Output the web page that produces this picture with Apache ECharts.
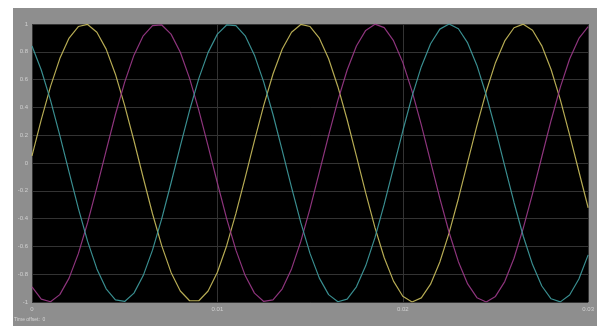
<!DOCTYPE html>
<html>
<head>
<meta charset="utf-8">
<script src="https://cdn.jsdelivr.net/npm/echarts@6/dist/echarts.min.js"></script>
<style>
html,body{margin:0;padding:0;background:#fff;}
#chart{width:597px;height:326px;}
</style>
</head>
<body>
<div id="chart"></div>
<script>
// Time samples (s)
const time = [0,0.0005,0.001,0.0015,0.002,0.0025,0.003,0.0035,0.004,0.0045,0.005,0.0055,0.006,0.0065,0.007,0.0075,0.008,0.0085,0.009,0.0095,
0.010,0.0105,0.011,0.0115,0.012,0.0125,0.013,0.0135,0.014,0.0145,0.015,0.0155,0.016,0.0165,0.017,0.0175,0.018,0.0185,0.019,0.0195,
0.020,0.0205,0.021,0.0215,0.022,0.0225,0.023,0.0235,0.024,0.0245,0.025,0.0255,0.026,0.0265,0.027,0.0275,0.028,0.0285,0.029,0.0295,0.030];
// Phase values
const phaseYellow = [0.051,0.312,0.551,0.751,0.899,0.982,0.997,0.941,0.819,0.639,0.413,0.160,-0.106,-0.365,-0.596,-0.787,-0.921,-0.991,-0.991,-0.921,
-0.786,-0.595,-0.363,-0.105,0.161,0.415,0.640,0.820,0.941,0.997,0.982,0.898,0.750,0.549,0.311,0.049,-0.215,-0.465,-0.682,-0.850,
-0.959,-1.000,-0.970,-0.872,-0.712,-0.503,-0.257,0.007,0.269,0.514,0.722,0.878,0.973,0.999,0.955,0.843,0.673,0.454,0.203,-0.061,-0.322];
const phaseMagenta = [-0.891,-0.979,-0.998,-0.947,-0.828,-0.652,-0.429,-0.175,0.089,0.349,0.582,0.776,0.915,0.989,0.993,0.927,0.797,0.609,0.378,0.122,
-0.144,-0.400,-0.627,-0.810,-0.936,-0.996,-0.985,-0.905,-0.762,-0.564,-0.326,-0.066,0.199,0.451,0.669,0.842,0.954,0.999,0.974,0.880,
0.724,0.517,0.274,0.010,-0.254,-0.500,-0.710,-0.870,-0.969,-1.000,-0.960,-0.853,-0.685,-0.468,-0.220,0.045,0.306,0.546,0.748,0.896,0.981];
const phaseCyan = [0.842,0.669,0.451,0.199,-0.066,-0.326,-0.564,-0.762,-0.905,-0.985,-0.996,-0.936,-0.810,-0.627,-0.400,-0.144,0.122,0.378,0.609,0.796,
0.927,0.993,0.989,0.915,0.776,0.582,0.349,0.089,-0.175,-0.429,-0.652,-0.828,-0.947,-0.998,-0.979,-0.891,-0.740,-0.537,-0.296,-0.033,
0.230,0.479,0.693,0.858,0.963,1.000,0.966,0.864,0.702,0.489,0.242,-0.023,-0.284,-0.527,-0.731,-0.885,-0.977,-0.999,-0.950,-0.835,-0.661];
const xTicks = [0,0.01,0.02,0.03];
const yTicks = [-1,-0.8,-0.6,-0.4,-0.2,0,0.2,0.4,0.6,0.8,1];
const footerText = 'Time offset:  0';

function pairs(vals){ return time.map((t,i)=>[t,vals[i]]); }

const chart = echarts.init(document.getElementById('chart'), null, {renderer:'canvas'});
function lineSeries(vals,color){
  return {type:'line', data:pairs(vals), smooth:false, showSymbol:false, clip:true,
    lineStyle:{color:color, width:1.2, opacity:0.9}};
}
chart.setOption({
  backgroundColor:'#ffffff',
  animation:false,
  graphic:[
    {type:'rect', shape:{x:13,y:8,width:584,height:318}, style:{fill:'#8e8e8e'}, z:-10},
    {type:'text', left:14, top:317, style:{text:footerText, fill:'#d4d4d4', font:'5px sans-serif'}}
  ],
  grid:{left:32,right:8,top:24,bottom:24,show:true,backgroundColor:'#000000',borderWidth:0},
  xAxis:{
    type:'value', min:xTicks[0], max:xTicks[xTicks.length-1], interval:0.01,
    axisLine:{show:false}, axisTick:{show:false},
    splitLine:{show:true, lineStyle:{color:'#333333', width:1}},
    axisLabel:{color:'#d0d0d0', fontSize:6, margin:4, formatter:v=>String(+v.toFixed(2))}
  },
  yAxis:{
    type:'value', min:yTicks[0], max:yTicks[yTicks.length-1], interval:0.2,
    axisLine:{show:false}, axisTick:{show:false},
    splitLine:{show:true, lineStyle:{color:'#333333', width:1}},
    axisLabel:{color:'#d0d0d0', fontSize:6, margin:4, formatter:v=>String(+v.toFixed(1))}
  },
  series:[
    lineSeries(phaseYellow,'#c9bd5c'),
    lineSeries(phaseMagenta,'#9c3a8a'),
    lineSeries(phaseCyan,'#3f9c9e')
  ]
});
</script>
</body>
</html>
